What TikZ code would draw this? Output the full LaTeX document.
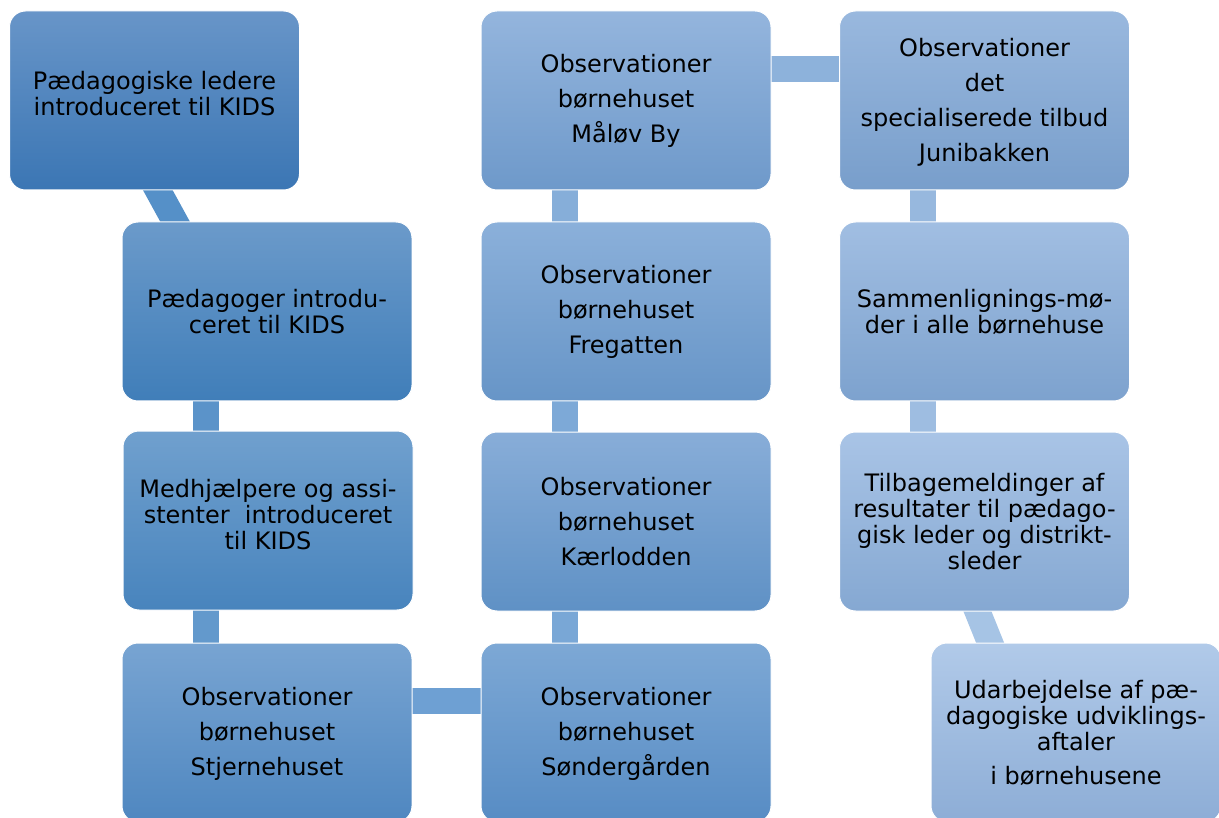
\documentclass[tikz,border=0pt]{standalone}
\usepackage{fontspec}
\setmainfont{DejaVu Sans}
\usetikzlibrary{backgrounds}
\begin{document}
\begin{tikzpicture}[x=1pt,y=-1pt,
  box/.style={rounded corners=16pt, minimum width=290pt, minimum height=179pt,
    align=center, inner sep=0pt, draw=white, line width=1pt,
    font=\fontsize{24}{26}\selectfont, text=black},
  conn/.style={line width=26pt, line cap=butt, shorten <=-20pt, shorten >=-20pt}]
\useasboundingbox (0,0) rectangle (1219,818);
\clip (0,0) rectangle (1219,818);
\definecolor{t1}{HTML}{6895C8}\definecolor{u1}{HTML}{3B76B4}
\definecolor{t2}{HTML}{6B9ACA}\definecolor{u2}{HTML}{407EB9}
\definecolor{t3}{HTML}{70A0CE}\definecolor{u3}{HTML}{4884BD}
\definecolor{t4}{HTML}{78A4D2}\definecolor{u4}{HTML}{4F87C0}
\definecolor{t5}{HTML}{7DA8D5}\definecolor{u5}{HTML}{578CC4}
\definecolor{t6}{HTML}{88ADD8}\definecolor{u6}{HTML}{5F91C5}
\definecolor{t7}{HTML}{8BB0DA}\definecolor{u7}{HTML}{6795C7}
\definecolor{t8}{HTML}{94B5DD}\definecolor{u8}{HTML}{6E99CA}
\definecolor{t9}{HTML}{99B8DE}\definecolor{u9}{HTML}{789ECB}
\definecolor{t10}{HTML}{A1BEE2}\definecolor{u10}{HTML}{7DA2CE}
\definecolor{t11}{HTML}{A9C4E6}\definecolor{u11}{HTML}{85A8D2}
\definecolor{t12}{HTML}{B1CAE9}\definecolor{u12}{HTML}{8DADD6}
\node[box, top color=t1, bottom color=u1] (b1) at (154.5,100.5) {Pædagogiske ledere\\introduceret til KIDS\\[-12pt]};
\node[box, top color=t2, bottom color=u2] (b2) at (267,311.5) {Pædagoger introdu-\\ceret til KIDS};
\node[box, top color=t3, bottom color=u3] (b3) at (268,520.5) {Medhjælpere og assi-\\stenter~ introduceret\\til KIDS\\[-14pt]};
\node[box, top color=t4, bottom color=u4] (b4) at (267,732.5) {\\[-6pt]Observationer\\[9pt]børnehuset\\[9pt]Stjernehuset};
\node[box, top color=t5, bottom color=u5] (b5) at (626,732.5) {\\[-6pt]Observationer\\[9pt]børnehuset\\[9pt]Søndergården};
\node[box, top color=t6, bottom color=u6] (b6) at (626,521.5) {Observationer\\[9pt]børnehuset\\[9pt]Kærlodden};
\node[box, top color=t7, bottom color=u7] (b7) at (626,311.5) {Observationer\\[9pt]børnehuset\\[9pt]Fregatten};
\node[box, top color=t8, bottom color=u8] (b8) at (626,100.5) {Observationer\\[9pt]børnehuset\\[9pt]Måløv By};
\node[box, top color=t9, bottom color=u9] (b9) at (984.5,100.5) {Observationer\\[9pt]det\\[9pt]specialiserede tilbud\\[9pt]Junibakken\\[-24pt]};
\node[box, top color=t10, bottom color=u10] (b10) at (984.5,311.5) {Sammenlignings-mø-\\der i alle børnehuse};
\node[box, top color=t11, bottom color=u11] (b11) at (984.5,521.5) {Tilbagemeldinger af\\resultater til pædago-\\gisk leder og distrikt-\\sleder};
\node[box, top color=t12, bottom color=u12] (b12) at (1076,732.5) {Udarbejdelse af pæ-\\dagogiske udviklings-\\aftaler\\[8pt]i børnehusene};
\begin{scope}[on background layer]
\draw[conn, color={rgb,255:red,85;green,144;blue,200}] ([xshift=3.5pt]b1.south) -- ([xshift=-92pt]b2.north);
\draw[conn, color={rgb,255:red,91;green,147;blue,201}] ([xshift=-61pt]b2.south) -- ([xshift=-61pt]b2.south |- b3.north);
\draw[conn, color={rgb,255:red,99;green,153;blue,204}] ([xshift=-62pt]b3.south) -- ([xshift=-62pt]b3.south |- b4.north);
\draw[conn, color={rgb,255:red,110;green,160;blue,211}] ([yshift=31.5pt]b4.east) -- ([yshift=31.5pt]b4.east -| b5.west);
\draw[conn, color={rgb,255:red,121;green,167;blue,214}] ([xshift=-61pt]b5.north) -- ([xshift=-61pt]b5.north |- b6.south);
\draw[conn, color={rgb,255:red,125;green,169;blue,215}] ([xshift=-61pt]b6.north) -- ([xshift=-61pt]b6.north |- b7.south);
\draw[conn, color={rgb,255:red,134;green,174;blue,217}] ([xshift=-61pt]b7.north) -- ([xshift=-61pt]b7.north |- b8.south);
\draw[conn, color={rgb,255:red,141;green,178;blue,219}] ([yshift=31.5pt]b8.east) -- ([yshift=31.5pt]b8.east -| b9.west);
\draw[conn, color={rgb,255:red,151;green,184;blue,222}] ([xshift=-61.5pt]b9.south) -- ([xshift=-61.5pt]b9.south |- b10.north);
\draw[conn, color={rgb,255:red,158;green,189;blue,225}] ([xshift=-61.5pt]b10.south) -- ([xshift=-61.5pt]b10.south |- b11.north);
\draw[conn, color={rgb,255:red,166;green,196;blue,229}] ([xshift=-7pt]b11.south) -- ([xshift=-86pt]b12.north);
\end{scope}
\end{tikzpicture}
\end{document}
